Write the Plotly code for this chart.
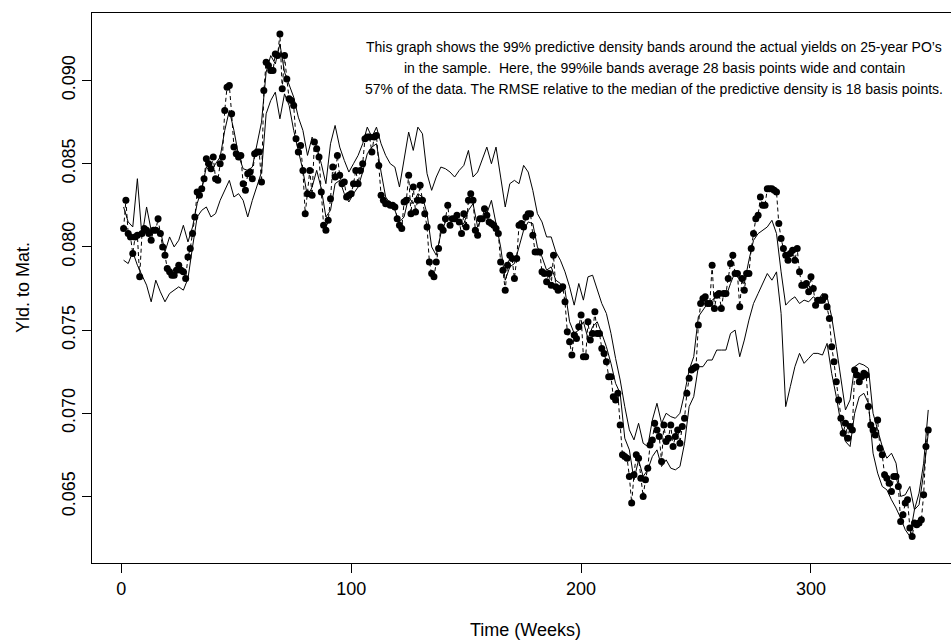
import plotly.graph_objects as go

# Actual yields on 25-year PO's, weeks 1..351
actual = [
    0.0811, 0.0828, 0.0808, 0.0806, 0.0796, 0.0806, 0.0807, 0.0782, 0.0808, 0.0811,  # 1-10
    0.0810, 0.0808, 0.0804, 0.0810, 0.0810, 0.0817, 0.0808, 0.0800, 0.0795, 0.0787,  # 11-20
    0.0785, 0.0783, 0.0783, 0.0786, 0.0789, 0.0786, 0.0785, 0.0781, 0.0794, 0.0799,  # 21-30
    0.0808, 0.0818, 0.0833, 0.0831, 0.0835, 0.0841, 0.0853, 0.0850, 0.0847, 0.0854,  # 31-40
    0.0841, 0.0840, 0.0850, 0.0854, 0.0882, 0.0896, 0.0897, 0.0880, 0.0860, 0.0856,  # 41-50
    0.0854, 0.0855, 0.0838, 0.0834, 0.0844, 0.0845, 0.0841, 0.0856, 0.0857, 0.0857,  # 51-60
    0.0839, 0.0894, 0.0911, 0.0909, 0.0906, 0.0906, 0.0916, 0.0915, 0.0928, 0.0895,  # 61-70
    0.0915, 0.0901, 0.0889, 0.0888, 0.0885, 0.0865, 0.0857, 0.0861, 0.0846, 0.0820,  # 71-80
    0.0832, 0.0846, 0.0831, 0.0863, 0.0859, 0.0854, 0.0833, 0.0813, 0.0810, 0.0816,  # 81-90
    0.0829, 0.0848, 0.0842, 0.0855, 0.0843, 0.0838, 0.0839, 0.0830, 0.0831, 0.0832,  # 91-100
    0.0838, 0.0846, 0.0838, 0.0846, 0.0850, 0.0865, 0.0866, 0.0866, 0.0857, 0.0866,  # 101-110
    0.0867, 0.0849, 0.0831, 0.0828, 0.0826, 0.0826, 0.0825, 0.0825, 0.0824, 0.0817,  # 111-120
    0.0813, 0.0811, 0.0827, 0.0828, 0.0843, 0.0820, 0.0836, 0.0821, 0.0828, 0.0837,  # 121-130
    0.0828, 0.0820, 0.0812, 0.0791, 0.0784, 0.0782, 0.0791, 0.0799, 0.0812, 0.0810,  # 131-140
    0.0817, 0.0825, 0.0813, 0.0817, 0.0817, 0.0819, 0.0815, 0.0808, 0.0820, 0.0812,  # 141-150
    0.0828, 0.0832, 0.0828, 0.0810, 0.0807, 0.0817, 0.0817, 0.0823, 0.0819, 0.0815,  # 151-160
    0.0814, 0.0813, 0.0811, 0.0808, 0.0791, 0.0786, 0.0774, 0.0789, 0.0795, 0.0793,  # 161-170
    0.0781, 0.0793, 0.0813, 0.0814, 0.0812, 0.0818, 0.0820, 0.0820, 0.0807, 0.0797,  # 171-180
    0.0797, 0.0797, 0.0785, 0.0784, 0.0779, 0.0784, 0.0777, 0.0795, 0.0776, 0.0774,  # 181-190
    0.0775, 0.0776, 0.0767, 0.0749, 0.0743, 0.0735, 0.0747, 0.0745, 0.0752, 0.0759,  # 191-200
    0.0734, 0.0734, 0.0755, 0.0744, 0.0748, 0.0761, 0.0748, 0.0748, 0.0739, 0.0736,  # 201-210
    0.0731, 0.0722, 0.0722, 0.0710, 0.0708, 0.0712, 0.0693, 0.0675, 0.0674, 0.0673,  # 211-220
    0.0662, 0.0646, 0.0663, 0.0675, 0.0673, 0.0661, 0.0650, 0.0660, 0.0667, 0.0681,  # 221-230
    0.0684, 0.0694, 0.0690, 0.0686, 0.0671, 0.0693, 0.0683, 0.0685, 0.0693, 0.0680,  # 231-240
    0.0686, 0.0690, 0.0682, 0.0692, 0.0697, 0.0712, 0.0721, 0.0726, 0.0727, 0.0728,  # 241-250
    0.0753, 0.0766, 0.0769, 0.0770, 0.0766, 0.0766, 0.0789, 0.0763, 0.0771, 0.0772,  # 251-260
    0.0763, 0.0772, 0.0772, 0.0781, 0.0790, 0.0795, 0.0784, 0.0784, 0.0764, 0.0781,  # 261-270
    0.0774, 0.0784, 0.0784, 0.0799, 0.0808, 0.0817, 0.0819, 0.0830, 0.0825, 0.0825,  # 271-280
    0.0835, 0.0835, 0.0835, 0.0834, 0.0833, 0.0814, 0.0805, 0.0799, 0.0795, 0.0792,  # 281-290
    0.0796, 0.0798, 0.0792, 0.0799, 0.0785, 0.0777, 0.0777, 0.0778, 0.0773, 0.0782,  # 291-300
    0.0775, 0.0765, 0.0768, 0.0768, 0.0768, 0.0770, 0.0764, 0.0757, 0.0740, 0.0731,  # 301-310
    0.0719, 0.0708, 0.0697, 0.0688, 0.0694, 0.0685, 0.0692, 0.0690, 0.0726, 0.0723,  # 311-320
    0.0719, 0.0722, 0.0724, 0.0723, 0.0704, 0.0693, 0.0690, 0.0687, 0.0696, 0.0679,  # 321-330
    0.0675, 0.0663, 0.0661, 0.0658, 0.0653, 0.0662, 0.0662, 0.0656, 0.0635, 0.0639,  # 331-340
    0.0646, 0.0648, 0.0631, 0.0626, 0.0634, 0.0633, 0.0634, 0.0636, 0.0651, 0.0680,  # 341-350
    0.0690,                                                                          # 351
]

# 99% predictive density bands, read at odd weeks 1, 3, 5, ..., 351
upper_band = [
    0.0824, 0.0815, 0.0812, 0.0841, 0.0806, 0.0824, 0.0810, 0.0812, 0.0810, 0.0797,  # 1-19
    0.0806, 0.0800, 0.0804, 0.0813, 0.0803, 0.0812, 0.0826, 0.0835, 0.0848, 0.0845,  # 21-39
    0.0850, 0.0854, 0.0870, 0.0882, 0.0870, 0.0855, 0.0847, 0.0846, 0.0848, 0.0862,  # 41-59
    0.0875, 0.0905, 0.0915, 0.0910, 0.0922, 0.0905, 0.0898, 0.0890, 0.0878, 0.0870,  # 61-79
    0.0855, 0.0866, 0.0860, 0.0850, 0.0838, 0.0862, 0.0873, 0.0860, 0.0852, 0.0845,  # 81-99
    0.0850, 0.0855, 0.0862, 0.0872, 0.0866, 0.0872, 0.0862, 0.0855, 0.0850, 0.0848,  # 101-119
    0.0836, 0.0854, 0.0869, 0.0858, 0.0872, 0.0868, 0.0844, 0.0834, 0.0842, 0.0848,  # 121-139
    0.0847, 0.0845, 0.0842, 0.0846, 0.0849, 0.0858, 0.0842, 0.0845, 0.0853, 0.0860,  # 141-159
    0.0850, 0.0860, 0.0842, 0.0824, 0.0838, 0.0840, 0.0838, 0.0849, 0.0845, 0.0834,  # 161-179
    0.0820, 0.0815, 0.0806, 0.0806, 0.0797, 0.0792, 0.0785, 0.0776, 0.0765, 0.0778,  # 181-199
    0.0768, 0.0782, 0.0783, 0.0775, 0.0766, 0.0760, 0.0748, 0.0733, 0.0720, 0.0704,  # 201-219
    0.0690, 0.0684, 0.0694, 0.0682, 0.0680, 0.0696, 0.0706, 0.0694, 0.0700, 0.0698,  # 221-239
    0.0697, 0.0700, 0.0712, 0.0726, 0.0734, 0.0758, 0.0762, 0.0766, 0.0768, 0.0770,  # 241-259
    0.0771, 0.0770, 0.0778, 0.0785, 0.0780, 0.0778, 0.0792, 0.0804, 0.0808, 0.0810,  # 261-279
    0.0812, 0.0816, 0.0808, 0.0785, 0.0765, 0.0768, 0.0770, 0.0766, 0.0768, 0.0767,  # 281-299
    0.0770, 0.0768, 0.0772, 0.0770, 0.0758, 0.0740, 0.0720, 0.0702, 0.0708, 0.0728,  # 301-319
    0.0730, 0.0729, 0.0727, 0.0700, 0.0690, 0.0680, 0.0673, 0.0676, 0.0670, 0.0650,  # 321-339
    0.0651, 0.0656, 0.0642, 0.0652, 0.0670, 0.0702,                                  # 341-351
]

lower_band = [
    0.0792, 0.0790, 0.0797, 0.0789, 0.0783, 0.0777, 0.0767, 0.0780, 0.0773, 0.0767,  # 1-19
    0.0772, 0.0774, 0.0776, 0.0774, 0.0781, 0.0800, 0.0818, 0.0822, 0.0824, 0.0818,  # 21-39
    0.0820, 0.0828, 0.0834, 0.0840, 0.0830, 0.0832, 0.0828, 0.0818, 0.0828, 0.0836,  # 41-59
    0.0845, 0.0880, 0.0888, 0.0893, 0.0877, 0.0892, 0.0885, 0.0870, 0.0858, 0.0846,  # 61-79
    0.0830, 0.0836, 0.0846, 0.0835, 0.0818, 0.0822, 0.0838, 0.0840, 0.0832, 0.0827,  # 81-99
    0.0832, 0.0836, 0.0845, 0.0856, 0.0860, 0.0862, 0.0845, 0.0830, 0.0826, 0.0822,  # 101-119
    0.0815, 0.0818, 0.0830, 0.0826, 0.0832, 0.0830, 0.0820, 0.0800, 0.0795, 0.0808,  # 121-139
    0.0815, 0.0818, 0.0816, 0.0815, 0.0814, 0.0822, 0.0826, 0.0812, 0.0818, 0.0820,  # 141-159
    0.0828, 0.0814, 0.0800, 0.0780, 0.0788, 0.0790, 0.0800, 0.0810, 0.0815, 0.0814,  # 161-179
    0.0800, 0.0794, 0.0786, 0.0788, 0.0780, 0.0778, 0.0774, 0.0755, 0.0748, 0.0750,  # 181-199
    0.0755, 0.0745, 0.0752, 0.0755, 0.0748, 0.0740, 0.0730, 0.0718, 0.0712, 0.0685,  # 201-219
    0.0678, 0.0660, 0.0672, 0.0662, 0.0666, 0.0674, 0.0678, 0.0668, 0.0672, 0.0667,  # 221-239
    0.0666, 0.0668, 0.0682, 0.0704, 0.0710, 0.0728, 0.0728, 0.0732, 0.0732, 0.0738,  # 241-259
    0.0738, 0.0738, 0.0748, 0.0750, 0.0734, 0.0744, 0.0756, 0.0766, 0.0772, 0.0778,  # 261-279
    0.0784, 0.0780, 0.0785, 0.0760, 0.0704, 0.0716, 0.0728, 0.0736, 0.0730, 0.0733,  # 281-299
    0.0736, 0.0736, 0.0735, 0.0742, 0.0724, 0.0710, 0.0694, 0.0683, 0.0680, 0.0700,  # 301-319
    0.0710, 0.0712, 0.0706, 0.0676, 0.0664, 0.0656, 0.0654, 0.0648, 0.0643, 0.0637,  # 321-339
    0.0630, 0.0626, 0.0642, 0.0645, 0.0664, 0.0688,                                  # 341-351
]

x_ticks = [0, 100, 200, 300]
y_ticks = [0.065, 0.070, 0.075, 0.080, 0.085, 0.090]
note_lines = [
    "This graph shows the 99% predictive density bands around the actual yields on 25-year PO\u2019s",
    "in the sample.  Here, the 99%ile bands average 28 basis points wide and contain",
    "57% of the data. The RMSE relative to the median of the predictive density is 18 basis points.",
]

weeks = list(range(1, len(actual) + 1))
band_weeks = list(range(1, 2 * len(upper_band), 2))

FONT = "Liberation Sans, Arial, Helvetica, sans-serif"

fig = go.Figure()
fig.add_trace(go.Scatter(x=band_weeks, y=upper_band, mode="lines",
                         line=dict(color="black", width=1), hoverinfo="skip"))
fig.add_trace(go.Scatter(x=band_weeks[:len(lower_band)], y=lower_band, mode="lines",
                         line=dict(color="black", width=1), hoverinfo="skip"))
fig.add_trace(go.Scatter(x=weeks, y=actual, mode="lines+markers",
                         line=dict(color="black", width=1, dash="4px,3px"),
                         marker=dict(color="black", size=7)))

L, R, T, B = 92, 0, 13, 78
W, H = 951, 641
pw, ph = W - L - R, H - T - B


def px_x(px):
    return (px - L) / pw


def px_y(py):
    return (H - B - py) / ph


annotations = [
    dict(text="Time (Weeks)", x=px_x(525), y=px_y(630), xref="paper", yref="paper",
         showarrow=False, xanchor="center", yanchor="middle",
         font=dict(family=FONT, size=18, color="black")),
    dict(text="Yld. to Mat.", x=px_x(23), y=0.5, xref="paper", yref="paper",
         showarrow=False, xanchor="center", yanchor="middle", textangle=-90,
         font=dict(family=FONT, size=18, color="black")),
]
for i, line in enumerate(note_lines):
    annotations.append(dict(text=line, x=px_x(654), y=px_y(47 + 21 * i),
                            xref="paper", yref="paper", showarrow=False,
                            xanchor="center", yanchor="middle",
                            font=dict(family=FONT, size=14, color="black")))

fig.update_layout(
    width=W, height=H,
    margin=dict(l=L, r=R, t=T, b=B, pad=0),
    paper_bgcolor="white", plot_bgcolor="white",
    showlegend=False,
    font=dict(family=FONT, size=18, color="black"),
    annotations=annotations,
    xaxis=dict(range=[-12.74, 360.9], tickvals=x_ticks, ticks="outside", ticklen=9,
               tickwidth=1, tickcolor="black", showline=True, linecolor="black",
               linewidth=1, mirror=True, showgrid=False, zeroline=False,
               tickfont=dict(family=FONT, size=18, color="black")),
    yaxis=dict(range=[0.0610, 0.09406], tickvals=y_ticks, tickformat=".3f",
               ticks="outside", ticklen=9, tickwidth=1, tickcolor="black",
               showline=True, linecolor="black", linewidth=1, mirror=False,
               showgrid=False, zeroline=False, tickangle=-90,
               tickfont=dict(family=FONT, size=18, color="black")),
)

fig.write_html("out.html")
